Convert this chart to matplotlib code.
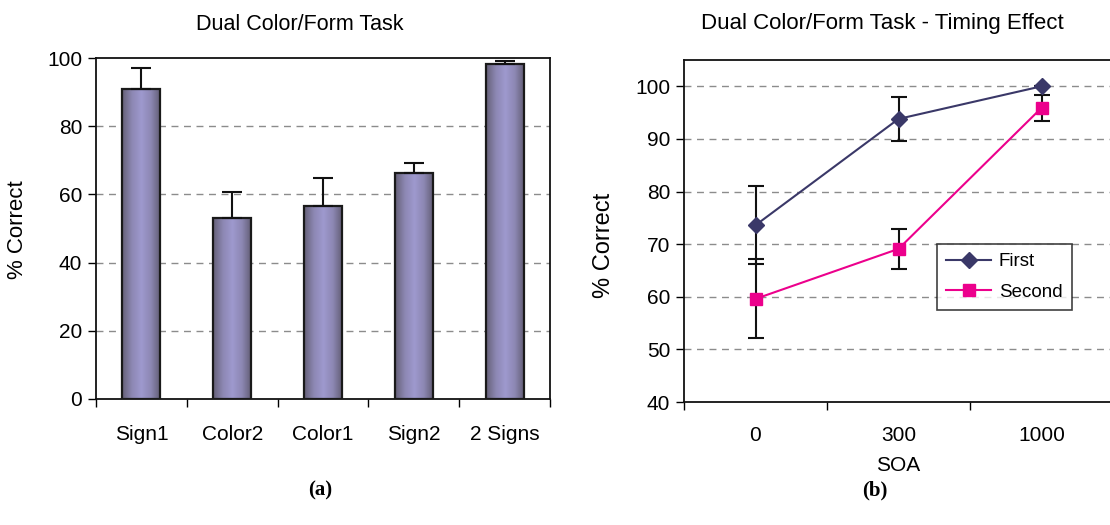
import matplotlib
matplotlib.use("Agg")
import matplotlib.pyplot as plt
import numpy as np
from matplotlib.patches import Rectangle

plt.rcParams['font.family'] = ['Liberation Sans', 'DejaVu Sans']

# ---- data (a) ----
bar_categories = ["Sign1", "Color2", "Color1", "Sign2", "2 Signs"]
bar_values = [91.0, 53.0, 56.6, 66.2, 98.2]
bar_errors = [6.0, 7.6, 8.1, 3.0, 0.9]
bar_yticks = [0, 20, 40, 60, 80, 100]

# ---- data (b) ----
soa_labels = ["0", "300", "1000"]
first_values = [73.6, 93.8, 100.0]
first_errors = [7.4, 4.1, 0.0]
second_values = [59.6, 69.1, 95.9]
second_errors = [7.5, 3.8, 2.4]
line_yticks = [40, 50, 60, 70, 80, 90, 100]

W, H = 1110, 525
fig = plt.figure(figsize=(W / 100, H / 100), dpi=100)

def fbox(l, t, r, b):
    return [l / W, 1 - b / H, (r - l) / W, (b - t) / H]

FS = 15
GRID = dict(color='#8c8c8c', linestyle=(0, (5, 4)), linewidth=1.0)

# ================= (a) =================
ax1 = fig.add_axes(fbox(96, 58, 550, 399))
x = np.arange(len(bar_categories))
bw = 0.42
bars = ax1.bar(x, bar_values, width=bw, color='none', edgecolor='#1a1a1a',
               linewidth=1.6, zorder=3)
grad_cols = np.array([[0.40, 0.38, 0.47], [0.55, 0.53, 0.70], [0.62, 0.60, 0.81],
                      [0.55, 0.53, 0.70], [0.38, 0.36, 0.45]])
t = np.linspace(0, 1, 64)
tp = np.linspace(0, 1, len(grad_cols))
grad = np.stack([np.interp(t, tp, grad_cols[:, c]) for c in range(3)], axis=-1)[None, :, :]
for b in bars:
    x0, w, h = b.get_x(), b.get_width(), b.get_height()
    im = ax1.imshow(grad, extent=[x0, x0 + w, 0, h], aspect='auto', zorder=2,
                    interpolation='bilinear')
    clip = Rectangle((x0, 0), w, h, transform=ax1.transData)
    im.set_clip_path(clip)
ax1.errorbar(x, bar_values, yerr=[np.zeros(len(bar_errors)), bar_errors], fmt='none',
             ecolor='#111111', elinewidth=1.5, capsize=7, capthick=1.5, zorder=4)
ax1.set_xlim(-0.5, len(bar_categories) - 0.5)
ax1.set_ylim(0, 100)
ax1.set_yticks(bar_yticks)
ax1.set_yticklabels([str(v) for v in bar_yticks], fontsize=FS)
ax1.set_xticks(x)
ax1.set_xticklabels(bar_categories, fontsize=FS)
ax1.set_xticks(np.arange(-0.5, len(bar_categories), 1.0), minor=True)
ax1.tick_params(axis='x', which='major', length=0, pad=19)
ax1.tick_params(axis='x', which='minor', length=6, direction='out', width=1.0)
ax1.tick_params(axis='y', length=6, direction='out', width=1.0, pad=4)
for yv in bar_yticks[1:-1]:
    ax1.axhline(yv, zorder=1, **GRID)
for s in ax1.spines.values():
    s.set_linewidth(1.3)
    s.set_color('#111111')
fig.text(300 / W, 1 - 24 / H, "Dual Color/Form Task", ha='center', va='center', fontsize=15.5)
fig.text(18 / W, 1 - 230 / H, "% Correct", ha='center', va='center', rotation=90, fontsize=16)
fig.text(320 / W, 1 - 490 / H, "(a)", ha='center', va='center', fontsize=15,
         fontweight='bold', family='Liberation Serif')

# ================= (b) =================
ax2 = fig.add_axes(fbox(684, 60, 1113, 402))
xs = np.arange(len(soa_labels))
for yv in line_yticks[1:]:
    ax2.axhline(yv, zorder=1, **GRID)
ax2.errorbar(xs, first_values, yerr=first_errors, fmt='none', ecolor='#111111',
             elinewidth=1.5, capsize=6, capthick=1.5, zorder=3)
ax2.errorbar(xs, second_values, yerr=second_errors, fmt='none', ecolor='#111111',
             elinewidth=1.5, capsize=6, capthick=1.5, zorder=3)
ax2.plot(xs, first_values, color='#3a3868', marker='D', markersize=8, linewidth=1.5,
         label='First', zorder=4)
ax2.plot(xs, second_values, color='#ec008c', marker='s', markersize=8.5, linewidth=1.5,
         label='Second', zorder=4)
ax2.set_xlim(-0.5, len(soa_labels) - 0.5)
ax2.set_ylim(40, 105)
ax2.set_yticks(line_yticks)
ax2.set_yticklabels([str(v) for v in line_yticks], fontsize=FS)
ax2.set_xticks(xs)
ax2.set_xticklabels(soa_labels, fontsize=FS)
ax2.set_xticks(np.arange(-0.5, len(soa_labels), 1.0), minor=True)
ax2.tick_params(axis='x', which='major', length=0, pad=17)
ax2.tick_params(axis='x', which='minor', length=6, direction='out', width=1.0)
ax2.tick_params(axis='y', length=6, direction='out', width=1.0, pad=4)
for s in ax2.spines.values():
    s.set_linewidth(1.3)
    s.set_color('#111111')
leg = ax2.legend(loc='upper left', bbox_to_anchor=((937 - 684) / 429, (402 - 244) / 342),
                 fontsize=13.5, frameon=True, fancybox=False, edgecolor='#111111',
                 borderpad=0.5, handlelength=2.4, labelspacing=0.7, handletextpad=0.4,
                 borderaxespad=0.0)
leg.get_frame().set_linewidth(1.2)
ax2.set_xlabel("SOA", fontsize=FS, labelpad=8)
fig.text(882 / W, 1 - 24 / H, "Dual Color/Form Task - Timing Effect", ha='center',
         va='center', fontsize=16)
fig.text(604 / W, 1 - 245 / H, "% Correct", ha='center', va='center', rotation=90, fontsize=17)
fig.text(875 / W, 1 - 490 / H, "(b)", ha='center', va='center', fontsize=15,
         fontweight='bold', family='Liberation Serif')

fig.savefig("out.png", dpi=100)
